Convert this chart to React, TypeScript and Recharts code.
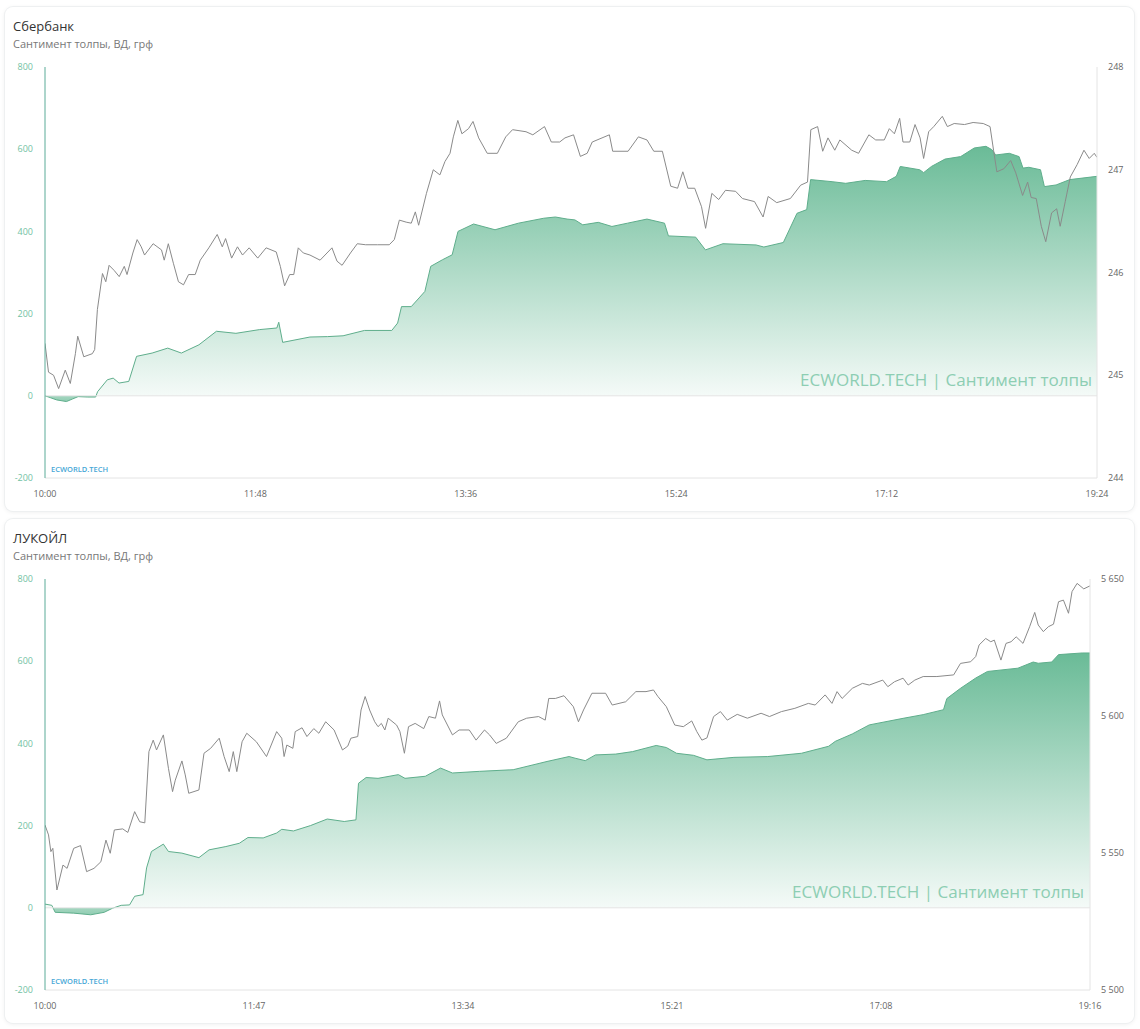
import React from 'react';
import { ComposedChart, Area, Line, XAxis, YAxis, ReferenceLine } from 'recharts';

// ---------- Сбербанк ----------
const sberTimeTicks = [0, 108, 216, 324, 432, 540];
const sberTimeLabels = ['10:00', '11:48', '13:36', '15:24', '17:12', '19:24'];
const sberPriceTicks = [244, 245, 246, 247, 248];

// [minute index, sentiment]
const sberSentiment: [number, number][] = [
  [0, 0], [3, -5], [6, -10], [11, -14], [14, -8], [17, -2], [22, -3], [26, -3], [27, 10], [32, 39],
  [35, 43], [38, 31], [43, 35], [47, 96], [55, 104], [63, 116], [70, 104], [79, 124], [88, 157], [98, 152],
  [110, 161], [119, 165], [120, 179], [122, 130], [136, 143], [145, 144], [153, 146], [164, 159], [178, 159], [181, 177],
  [183, 217], [188, 217], [192, 238], [195, 254], [198, 315], [204, 331], [209, 343], [212, 400], [220, 418], [231, 404],
  [243, 420], [256, 432], [262, 435], [268, 430], [272, 428], [276, 416], [284, 422], [291, 412], [299, 420], [309, 430],
  [318, 420], [320, 389], [334, 386], [339, 355], [348, 370], [365, 367], [369, 362], [379, 373], [386, 444], [391, 453],
  [393, 526], [404, 521], [411, 517], [421, 524], [432, 521], [437, 534], [439, 558], [449, 550], [451, 543], [455, 558],
  [462, 576], [470, 582], [477, 603], [483, 607], [486, 599], [488, 586], [495, 590], [500, 582], [502, 554], [505, 556],
  [511, 550], [513, 509], [519, 513], [526, 526], [540, 534],
];

// [minute index, price]
const sberPrice: [number, number][] = [
  [0, 245.31], [1.8, 245.03], [4.4, 245.0], [7, 244.87], [10.4, 245.05], [13, 244.92], [15.6, 245.21], [16.8, 245.38],
  [19.9, 245.18], [24.3, 245.21], [25.5, 245.25], [26.9, 245.64], [29.5, 245.99], [31.2, 245.91], [32.9, 246.07],
  [35.5, 246.02], [38.1, 245.96], [40.7, 246.06], [42.1, 245.98], [45.1, 246.19], [47.3, 246.32], [49.4, 246.25],
  [51.1, 246.17], [55.5, 246.28], [59.8, 246.22], [61.2, 246.12], [63.3, 246.28], [65.9, 246.09], [68.5, 245.91],
  [71.1, 245.88], [73.7, 245.98], [77.1, 245.98], [79.7, 246.12], [84.1, 246.24], [88.4, 246.37], [91, 246.25],
  [92.7, 246.33], [95.8, 246.14], [98.8, 246.25], [101.4, 246.17], [104.8, 246.24], [109.2, 246.14], [113.5, 246.24],
  [118.7, 246.2], [120.8, 246.06], [123, 245.87], [125.6, 245.98], [127.7, 245.98], [130, 246.24], [132.6, 246.19],
  [136, 246.17], [141.2, 246.12], [147.3, 246.24], [149.9, 246.11], [152.5, 246.07], [156.8, 246.19], [160.3, 246.28],
  [164.6, 246.27], [170.7, 246.27], [176.7, 246.27], [179.3, 246.32], [181.9, 246.51], [185.4, 246.49], [188, 246.48],
  [190.1, 246.59], [191.8, 246.46], [195.8, 246.77], [199.3, 247.0], [202.7, 246.95], [205.3, 247.08], [207.9, 247.16],
  [209.6, 247.32], [211.9, 247.48], [214, 247.35], [217.4, 247.4], [219.7, 247.47], [222.6, 247.31], [227, 247.16],
  [232.2, 247.16], [236.5, 247.32], [240, 247.39], [246.9, 247.37], [250.4, 247.34], [256.4, 247.42], [259.9, 247.27],
  [264.2, 247.27], [266.9, 247.31], [271.3, 247.34], [274.8, 247.13], [278.3, 247.16], [280.9, 247.27], [289.7, 247.34],
  [291.4, 247.18], [299.3, 247.18], [304.6, 247.32], [309, 247.29], [312.5, 247.18], [316.9, 247.18], [321.2, 246.84],
  [324.7, 246.82], [327.4, 246.98], [330, 246.82], [333.5, 246.82], [337, 246.64], [339.1, 246.43], [342.3, 246.77],
  [345.8, 246.71], [349.3, 246.8], [354.5, 246.79], [358, 246.72], [364.2, 246.69], [368.6, 246.54], [371.2, 246.74],
  [375.6, 246.68], [382.6, 246.72], [387.9, 246.85], [391.4, 246.88], [393.1, 247.39], [396.6, 247.42], [399.2, 247.18],
  [401.9, 247.31], [405.4, 247.19], [408, 247.29], [414.1, 247.19], [417.6, 247.16], [422.9, 247.34], [426.4, 247.29],
  [430.8, 247.29], [433.4, 247.4], [436, 247.35], [438.7, 247.5], [440.4, 247.27], [443.9, 247.27], [446.6, 247.44],
  [449.2, 247.31], [451, 247.11], [453.6, 247.37], [456.2, 247.42], [460.6, 247.52], [463.2, 247.42], [466.7, 247.45],
  [472, 247.44], [476.4, 247.46], [481.6, 247.45], [485.1, 247.42], [486.9, 247.19], [488.6, 246.98], [492.2, 247.01],
  [495.7, 247.09], [498.3, 246.97], [501.8, 246.75], [504.4, 246.88], [506.2, 246.73], [508.8, 246.72], [511.4, 246.45],
  [513.7, 246.3], [516.7, 246.58], [519.3, 246.62], [521.1, 246.45], [523.7, 246.69], [526.3, 246.93], [529.8, 247.05],
  [533.3, 247.19], [536, 247.11], [538.6, 247.16], [540, 247.12],
];

// ---------- ЛУКОЙЛ ----------
const lukTimeTicks = [0, 107, 214, 321, 428, 535];
const lukTimeLabels = ['10:00', '11:47', '13:34', '15:21', '17:08', '19:16'];
const lukPriceTicks = [5500, 5550, 5600, 5650];

const lukSentiment: [number, number][] = [
  [0, 9], [3.5, 6], [5.2, -11], [14.7, -13], [23.4, -17], [30.3, -11], [34.6, -1], [39, 6], [43.3, 7], [45.9, 28],
  [50.2, 32], [52, 97], [54.5, 137], [60.6, 155], [63.2, 137], [70.1, 133], [78.8, 122], [84, 141], [92.6, 149], [99.5, 157],
  [103.9, 171], [111.7, 170], [118.6, 182], [121.2, 191], [127.2, 187], [135.9, 200], [144.5, 216], [153.2, 210], [159.2, 214], [160.5, 303],
  [164.4, 317], [170.5, 315], [180.9, 324], [184.3, 315], [194.7, 320], [202.5, 340], [208.6, 328], [222.4, 332], [239.7, 336], [257, 356],
  [268.3, 368], [271.4, 364], [276.6, 358], [281.8, 372], [292.2, 374], [300.8, 380], [312.9, 395], [318.1, 390], [323.3, 376], [332, 371],
  [338.9, 360], [352.7, 366], [370, 368], [387.3, 376], [401.2, 393], [404.6, 405], [413.3, 423], [422, 445], [439.3, 461], [449.6, 470],
  [460, 482], [461.7, 509], [468.7, 534], [476.5, 559], [482.5, 575], [498.1, 583], [505.9, 598], [508.5, 595], [515.4, 598], [518.9, 616],
  [531, 620], [535, 620],
];

const lukPrice: [number, number][] = [
  [0, 5560.2], [1.8, 5556.6], [3, 5550.5], [4, 5551.7], [6.1, 5536.5], [9.2, 5545.6], [11.3, 5544.4], [14.7, 5551.7],
  [18.2, 5552.7], [21.3, 5543.2], [25.1, 5544.4], [28.6, 5546.8], [31.2, 5554.7], [33.4, 5549.9], [35.5, 5558.4],
  [39.8, 5558.8], [42.4, 5557.5], [45.9, 5565.1], [48.5, 5561.4], [51.1, 5561], [53.2, 5587], [55.4, 5591.2],
  [57.1, 5587.6], [60.6, 5593.1], [63.2, 5580.9], [65.3, 5572.4], [66.7, 5576.6], [70.1, 5583.6], [71.8, 5578.5],
  [73.6, 5571.8], [78.8, 5573], [81.4, 5586.4], [84.8, 5588.2], [89.2, 5591.9], [91.7, 5585.2], [94.3, 5579.7],
  [96.4, 5587], [98.2, 5579.7], [100.9, 5590.6], [103.3, 5593.7], [108.2, 5590.6], [113.4, 5585.2], [118.6, 5594.3],
  [121.2, 5591.9], [122.4, 5585.2], [123.8, 5589.4], [126.9, 5588.2], [128.1, 5594.3], [131.6, 5595.7], [134.1, 5592.5],
  [137.6, 5595.4], [140.2, 5593.7], [143.7, 5597.9], [148, 5594.9], [152.3, 5587.6], [155, 5589], [156.6, 5591.9],
  [160.1, 5592.5], [161.8, 5602.2], [163.9, 5607.1], [166.2, 5602.2], [168.8, 5597.9], [170.5, 5596.1], [172.2, 5597.3],
  [174, 5594.9], [175.7, 5599.2], [180, 5596.7], [181.7, 5594.3], [184, 5586.4], [186.1, 5596.1], [189.5, 5597.3],
  [193.9, 5595.4], [196.5, 5599.8], [199.9, 5599.2], [202, 5605.5], [203.4, 5600.4], [208.6, 5593.1], [212, 5594.9],
  [217.2, 5594.9], [220.7, 5591.2], [225, 5594.9], [227.6, 5593.1], [231, 5590], [236.2, 5591.9], [242.3, 5597.9],
  [246.6, 5599.2], [252.7, 5599.8], [256.1, 5598.5], [257.9, 5606.4], [261.3, 5606.4], [265.7, 5607.4], [270.5, 5603.4],
  [273.1, 5597.9], [275.7, 5602.2], [280, 5608.3], [287, 5608.3], [290.4, 5604], [297.3, 5605.2], [302.5, 5608.9],
  [307.7, 5608.9], [311.5, 5609.5], [313.8, 5607.1], [318.1, 5603.4], [322.4, 5596.7], [326.8, 5596.1], [331.1, 5598.2],
  [333.7, 5594.3], [336.3, 5591.2], [338.9, 5592], [342.3, 5599.8], [345.8, 5601.6], [349.3, 5598.5], [354.4, 5600.6],
  [359.6, 5599.2], [366.6, 5601], [370.9, 5599.8], [377, 5601.6], [383.9, 5602.8], [390.8, 5604.6], [394.3, 5604],
  [399.4, 5607.7], [402.9, 5604.6], [405.5, 5608.9], [408.1, 5606.4], [413.3, 5610.1], [418.5, 5611.9], [422, 5611.3],
  [428.9, 5613.1], [431.5, 5610.7], [434.9, 5612.5], [439.3, 5613.8], [441.9, 5611.3], [445.3, 5613.1], [449.6, 5614.4],
  [456.6, 5614.4], [465.2, 5615], [468.7, 5619.2], [473.9, 5619.8], [476.5, 5621.7], [478.2, 5625.9], [481.6, 5628.3],
  [484.2, 5627.1], [486, 5627.7], [489.4, 5620.4], [492, 5626.5], [494.6, 5627.1], [497.2, 5628.9], [500.7, 5626.5],
  [504.1, 5632.6], [506.7, 5637.8], [508.5, 5633.2], [511.1, 5630.8], [513.7, 5632.6], [516.3, 5633.5], [518.9, 5641.7],
  [521.4, 5642.3], [524, 5637.5], [525.8, 5645.4], [528.4, 5648.4], [531.8, 5646.4], [535, 5647.5],
];

const sentTicks = [-200, 0, 200, 400, 600, 800];

const toRows = (pairs: [number, number][]) => pairs.map(([t, v]) => ({ t, v }));
const fmtPrice = (v: number) => String(v).replace(/\B(?=(\d{3})+(?!\d))/g, '\u00a0');

const CARD_W = 1129;
const CARD_H = 504;

type PanelProps = {
  id: string;
  top: number;
  title: string;
  sentiment: [number, number][];
  price: [number, number][];
  timeTicks: number[];
  timeLabels: string[];
  priceTicks: number[];
  plotRightPage: number;
  watermarkRightPage: number;
};

function Panel(p: PanelProps) {
  const cardLeft = 5;
  const rightW = CARD_W - (p.plotRightPage - cardLeft);
  const domainMax = p.timeTicks[p.timeTicks.length - 1];
  const pd: [number, number] = [p.priceTicks[0], p.priceTicks[p.priceTicks.length - 1]];
  const vals = p.sentiment.map((d) => d[1]);
  const vMax = Math.max(0, ...vals);
  const vMin = Math.min(0, ...vals);
  const zeroOff = vMax - vMin > 0 ? (vMax / (vMax - vMin)) * 100 : 100;
  return (
    <div
      style={{
        position: 'absolute',
        left: cardLeft,
        top: p.top,
        width: CARD_W,
        height: CARD_H,
        background: '#fff',
        borderRadius: 8,
        boxShadow: '0 0 0 1px #eef0f1, 0 1px 5px rgba(0,0,0,0.08)',
      }}
    >
      <div style={{ position: 'absolute', left: 8, top: 11, fontSize: 13, lineHeight: '16px', color: '#333' }}>{p.title}</div>
      <div style={{ position: 'absolute', left: 8, top: 30, fontSize: 11, lineHeight: '14px', color: '#777' }}>
        Сантимент толпы, ВД, грф
      </div>
      <div style={{ position: 'absolute', left: 0, top: 0 }}>
        <ComposedChart width={CARD_W} height={CARD_H} margin={{ top: 60, right: 0, bottom: 8, left: 0 }}>
          <defs>
            <linearGradient id={'g' + p.id} x1="0" y1="0" x2="0" y2="1">
              <stop offset="0%" stopColor="#6abb97" stopOpacity={1} />
              <stop offset={zeroOff + '%'} stopColor="#6abb97" stopOpacity={0.07} />
              <stop offset={zeroOff + '%'} stopColor="#6abb97" stopOpacity={0.6} />
              <stop offset="100%" stopColor="#6abb97" stopOpacity={0.75} />
            </linearGradient>
          </defs>
          <XAxis
            dataKey="t"
            type="number"
            domain={[0, domainMax]}
            ticks={p.timeTicks}
            interval={0}
            allowDataOverflow
            tickFormatter={(v: number) => p.timeLabels[p.timeTicks.indexOf(v)] ?? ''}
            axisLine={{ stroke: '#e4e4e4' }}
            tickLine={false}
            tickSize={6}
            tickMargin={7}
            height={25}
            tick={{ fontSize: 9, fill: '#666' }}
          />
          <YAxis
            yAxisId="left"
            domain={[-200, 800]}
            ticks={sentTicks}
            interval={0}
            width={40}
            axisLine={{ stroke: '#5aab98' }}
            tickLine={false}
            tickSize={6}
            tickMargin={6}
            tick={{ fontSize: 9, fill: '#72c2a3' }}
          />
          <YAxis
            yAxisId="right"
            orientation="right"
            domain={pd}
            ticks={p.priceTicks}
            interval={0}
            width={rightW}
            axisLine={{ stroke: '#e4e4e4' }}
            tickLine={false}
            tickSize={5}
            tickMargin={6}
            tickFormatter={fmtPrice}
            tick={{ fontSize: 9, fill: '#666', textAnchor: 'start' }}
          />
          <ReferenceLine yAxisId="left" y={0} stroke="#e4e4e4" />
          <Area
            yAxisId="left"
            data={toRows(p.sentiment)}
            dataKey="v"
            type="linear"
            baseValue={0}
            stroke="#5fae8c"
            strokeWidth={1}
            fill={'url(#g' + p.id + ')'}
            fillOpacity={1}
            isAnimationActive={false}
            dot={false}
            activeDot={false}
          />
          <Line
            yAxisId="right"
            data={toRows(p.price)}
            dataKey="v"
            type="linear"
            stroke="#8a8a8a"
            strokeWidth={1}
            dot={false}
            activeDot={false}
            isAnimationActive={false}
          />
        </ComposedChart>
      </div>
      <div
        style={{
          position: 'absolute',
          right: CARD_W - (p.watermarkRightPage - cardLeft),
          top: 363,
          fontSize: 17,
          lineHeight: '20px',
          color: '#8dceb3',
          whiteSpace: 'nowrap',
        }}
      >
        ECWORLD.TECH | Сантимент толпы
      </div>
      <div
        style={{
          position: 'absolute',
          left: 46,
          top: 457,
          fontSize: 7.5,
          lineHeight: '10px',
          fontWeight: 600,
          color: '#45a7d6',
        }}
      >
        ECWORLD.TECH
      </div>
    </div>
  );
}

export default function App() {
  return (
    <div
      style={{
        position: 'absolute',
        left: 0,
        top: 0,
        width: 1140,
        height: 1029,
        background: '#fff',
        fontFamily: "'Open Sans', 'Noto Sans', sans-serif",
      }}
    >
      <Panel
        id="sber"
        top={7}
        title="Сбербанк"
        sentiment={sberSentiment}
        price={sberPrice}
        timeTicks={sberTimeTicks}
        timeLabels={sberTimeLabels}
        priceTicks={sberPriceTicks}
        plotRightPage={1097}
        watermarkRightPage={1092}
      />
      <Panel
        id="luk"
        top={519}
        title="ЛУКОЙЛ"
        sentiment={lukSentiment}
        price={lukPrice}
        timeTicks={lukTimeTicks}
        timeLabels={lukTimeLabels}
        priceTicks={lukPriceTicks}
        plotRightPage={1090}
        watermarkRightPage={1084}
      />
    </div>
  );
}
